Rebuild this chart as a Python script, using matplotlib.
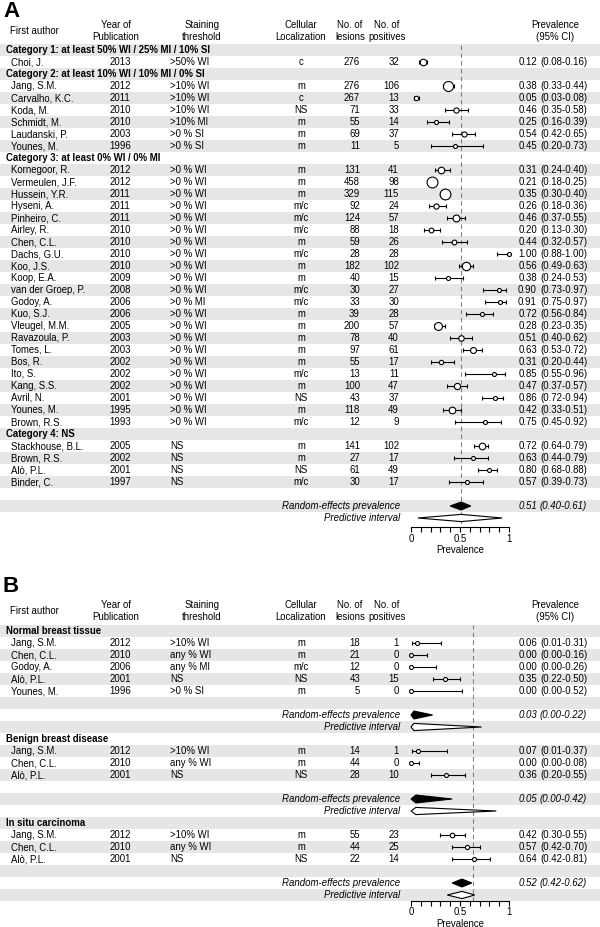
"""
Forest plots: prevalence per study (A) and per tissue type (B).
"""

import numpy as np
import matplotlib
matplotlib.use("Agg")
import matplotlib.pyplot as plt
from matplotlib.patches import Polygon

plt.rcParams['font.family'] = ['Liberation Sans', 'DejaVu Sans']

# ============================================
# 1. Data, panel A
# ============================================
cats_a = ["Category 1: at least 50% WI / 25% MI / 10% SI",
          "Category 2: at least 10% WI / 10% MI / 0% SI",
          "Category 3: at least 0% WI / 0% MI",
          "Category 4: NS"]
group_a = [0] + [1] * 6 + [2] * 22 + [3] * 4
authors_a = ["Choi, J.",
             "Jang, S.M.", "Carvalho, K.C.", "Koda, M.", "Schmidt, M.", "Laudanski, P.", "Younes, M.",
             "Kornegoor, R.", "Vermeulen, J.F.", "Hussein, Y.R.", "Hyseni, A.", "Pinheiro, C.",
             "Airley, R.", "Chen, C.L.", "Dachs, G.U.", "Koo, J.S.", "Koop, E.A.", "van der Groep, P.",
             "Godoy, A.", "Kuo, S.J.", "Vleugel, M.M.", "Ravazoula, P.", "Tomes, L.", "Bos, R.",
             "Ito, S.", "Kang, S.S.", "Avril, N.", "Younes, M.", "Brown, R.S.",
             "Stackhouse, B.L.", "Brown, R.S.", "Alò, P.L.", "Binder, C."]
years_a = [2013,
           2012, 2011, 2010, 2010, 2003, 1996,
           2012, 2012, 2011, 2011, 2011, 2010, 2010, 2010, 2010, 2009, 2008,
           2006, 2006, 2005, 2003, 2003, 2002, 2002, 2002, 2001, 1995, 1993,
           2005, 2002, 2001, 1997]
thresh_a = [">50% WI",
            ">10% WI", ">10% WI", ">10% WI", ">10% MI", ">0 % SI", ">0 % SI"] + \
           [">0 % WI"] * 11 + [">0 % MI"] + [">0 % WI"] * 10 + ["NS"] * 4
loc_a = ["c",
         "m", "c", "NS", "m", "m", "m",
         "m", "m", "m", "m/c", "m/c", "m/c", "m", "m/c", "m", "m", "m/c",
         "m/c", "m", "m", "m", "m", "m", "m/c", "m", "NS", "m", "m/c",
         "m", "m", "NS", "m/c"]
lesions_a = [276,
             276, 267, 71, 55, 69, 11,
             131, 458, 329, 92, 124, 88, 59, 28, 182, 40, 30,
             33, 39, 200, 78, 97, 55, 13, 100, 43, 118, 12,
             141, 27, 61, 30]
positives_a = [32,
               106, 13, 33, 14, 37, 5,
               41, 98, 115, 24, 57, 18, 26, 28, 102, 15, 27,
               30, 28, 57, 40, 61, 17, 11, 47, 37, 49, 9,
               102, 17, 49, 17]
prev_a = [0.12,
          0.38, 0.05, 0.46, 0.25, 0.54, 0.45,
          0.31, 0.21, 0.35, 0.26, 0.46, 0.20, 0.44, 1.00, 0.56, 0.38, 0.90,
          0.91, 0.72, 0.28, 0.51, 0.63, 0.31, 0.85, 0.47, 0.86, 0.42, 0.75,
          0.72, 0.63, 0.80, 0.57]
lo_a = [0.08,
        0.33, 0.03, 0.35, 0.16, 0.42, 0.20,
        0.24, 0.18, 0.30, 0.18, 0.37, 0.13, 0.32, 0.88, 0.49, 0.24, 0.73,
        0.75, 0.56, 0.23, 0.40, 0.53, 0.20, 0.55, 0.37, 0.72, 0.33, 0.45,
        0.64, 0.44, 0.68, 0.39]
hi_a = [0.16,
        0.44, 0.08, 0.58, 0.39, 0.65, 0.73,
        0.40, 0.25, 0.40, 0.36, 0.55, 0.30, 0.57, 1.00, 0.63, 0.53, 0.97,
        0.97, 0.84, 0.35, 0.62, 0.72, 0.44, 0.96, 0.57, 0.94, 0.51, 0.92,
        0.79, 0.79, 0.88, 0.73]
pooled_a = [[0.51, 0.40, 0.61]]
pred_a = [[0.07, 0.93]]
ref_a = 0.51

# ============================================
# 2. Data, panel B
# ============================================
cats_b = ["Normal breast tissue", "Benign breast disease", "In situ carcinoma"]
group_b = [0] * 5 + [1] * 3 + [2] * 3
authors_b = ["Jang, S.M.", "Chen, C.L.", "Godoy, A.", "Alò, P.L.", "Younes, M.",
             "Jang, S.M.", "Chen, C.L.", "Alò, P.L.",
             "Jang, S.M.", "Chen, C.L.", "Alò, P.L."]
years_b = [2012, 2010, 2006, 2001, 1996, 2012, 2010, 2001, 2012, 2010, 2001]
thresh_b = [">10% WI", "any % WI", "any % MI", "NS", ">0 % SI",
            ">10% WI", "any % WI", "NS",
            ">10% WI", "any % WI", "NS"]
loc_b = ["m", "m", "m/c", "NS", "m", "m", "m", "NS", "m", "m", "NS"]
lesions_b = [18, 21, 12, 43, 5, 14, 44, 28, 55, 44, 22]
positives_b = [1, 0, 0, 15, 0, 1, 0, 10, 23, 25, 14]
prev_b = [0.06, 0.00, 0.00, 0.35, 0.00, 0.07, 0.00, 0.36, 0.42, 0.57, 0.64]
lo_b = [0.01, 0.00, 0.00, 0.22, 0.00, 0.01, 0.00, 0.20, 0.30, 0.42, 0.42]
hi_b = [0.31, 0.16, 0.26, 0.50, 0.52, 0.37, 0.08, 0.55, 0.55, 0.70, 0.81]
pooled_b = [[0.03, 0.00, 0.22], [0.05, 0.00, 0.42], [0.52, 0.42, 0.62]]
pred_b = [[0.00, 0.72], [0.00, 0.87], [0.37, 0.65]]
ref_b = 0.63

# ============================================
# 3. Layout (pixels)
# ============================================
W, H = 600, 927
ROW = 12
FS = 6.9
BAND = '#e6e6e6'
X0, X1 = 411, 509          # forest axis: prevalence 0 -> 1


def px_rect(x0, y0, x1, y1):
    return [x0 / W, 1 - y1 / H, (x1 - x0) / W, (y1 - y0) / H]


def build_rows(cats, groups, per_group):
    rows = []
    for g in range(len(cats)):
        rows.append(('head', g))
        rows += [('study', i) for i, gg in enumerate(groups) if gg == g]
        if per_group:
            rows += [('blank', g), ('re', g), ('pi', g)]
    if not per_group:
        rows += [('blank', 0), ('re', 0), ('pi', 0)]
    return rows


def draw_panel(fig, letter, letter_y, head_y, row0, cats, rows, d, pooled, pred, ref,
               spine_out):
    n = len(rows)
    top = row0 - ROW / 2
    bot = row0 + ROW * (n - 1) + ROW / 2
    to_row = lambda y: (y - row0) / ROW

    # table part
    tab = fig.add_axes(px_rect(0, top, W, bot))
    tab.set_xlim(0, W)
    tab.set_ylim(n - 0.5, -0.5)
    tab.axis('off')
    for r in range(0, n, 2):
        tab.axhspan(r - 0.5, r + 0.5, color=BAND, lw=0, zorder=0)

    tab.text(3, to_row(letter_y), letter, fontsize=16, fontweight='bold',
             ha='left', va='center')
    hy = to_row(head_y)
    tab.text(10, hy, "First author", fontsize=FS, ha='left', va='center')
    for x, t in [(116, "Year of\nPublication"), (202, "Staining\nthreshold"),
                 (301, "Cellular\nLocalization"), (350, "No. of\nlesions"),
                 (387, "No. of\npositives"), (555, "Prevalence\n(95% CI)")]:
        tab.text(x, hy, t, fontsize=FS, ha='center', va='center', linespacing=1.3)

    # forest part
    fa = fig.add_axes(px_rect(X0, top, X1, bot))
    fa.set_xlim(0, 1)
    fa.set_ylim(n - 0.5, -0.5)
    fa.patch.set_visible(False)
    for s in ['top', 'right', 'left']:
        fa.spines[s].set_visible(False)
    fa.spines['bottom'].set_position(('outward', spine_out))
    fa.spines['bottom'].set_linewidth(0.8)
    fa.set_yticks([])
    fa.set_xticks(np.linspace(0, 1, 11))
    fa.set_xticklabels(['0', '', '', '', '', '0.5', '', '', '', '', '1'])
    fa.tick_params(axis='x', length=3.6, width=0.8, pad=1, labelsize=FS)
    fa.set_xlabel("Prevalence", fontsize=FS, labelpad=1)
    fa.axvline(ref, color='#808080', lw=0.8, ls=(0, (4, 3)), zorder=1)

    for r, (kind, k) in enumerate(rows):
        if kind == 'head':
            tab.text(6, r, cats[k], fontsize=FS, fontweight='bold', ha='left', va='center')
        elif kind == 'study':
            tab.text(11, r, d['author'][k], fontsize=FS, ha='left', va='center')
            tab.text(120, r, str(d['year'][k]), fontsize=FS, ha='center', va='center')
            tab.text(170, r, d['thresh'][k], fontsize=FS, ha='left', va='center')
            tab.text(301, r, d['loc'][k], fontsize=FS, ha='center', va='center')
            tab.text(360, r, str(d['n'][k]), fontsize=FS, ha='right', va='center')
            tab.text(399, r, str(d['x'][k]), fontsize=FS, ha='right', va='center')
            p, lo, hi = d['p'][k], d['lo'][k], d['hi'][k]
            tab.text(537, r, f"{p:.2f}", fontsize=FS, ha='right', va='center')
            tab.text(540, r, f"({lo:.2f}-{hi:.2f})", fontsize=FS, ha='left', va='center')
            # inverse-variance weight (logit scale) sets the marker size
            x, nn = d['x'][k], d['n'][k]
            w = 1 / (1 / (x + 0.5) + 1 / (nn - x + 0.5))
            diam = max(4.0, 1.24 * np.sqrt(w))
            fa.errorbar(p, r, xerr=[[p - lo], [hi - p]], fmt='none', ecolor='black',
                        elinewidth=0.8, capsize=1.6, capthick=0.8, zorder=2, clip_on=False)
            fa.plot(p, r, 'o', ms=diam * 0.72, mfc='white', mec='black', mew=0.8,
                    zorder=3, clip_on=False)
        elif kind == 're':
            est, lo, hi = pooled[k]
            tab.text(400, r, "Random-effects prevalence", fontsize=FS, style='italic',
                     ha='right', va='center')
            tab.text(537, r, f"{est:.2f}", fontsize=FS, style='italic', ha='right', va='center')
            tab.text(540, r, f"({lo:.2f}-{hi:.2f})", fontsize=FS, style='italic',
                     ha='left', va='center')
            fa.add_patch(Polygon([(lo, r), (est, r - 0.33), (hi, r), (est, r + 0.33)],
                                 closed=True, fc='black', ec='black', lw=0.8,
                                 zorder=3, clip_on=False))
        elif kind == 'pi':
            est = pooled[k][0]
            lo, hi = pred[k]
            tab.text(400, r, "Predictive interval", fontsize=FS, style='italic',
                     ha='right', va='center')
            fa.add_patch(Polygon([(lo, r), (est, r - 0.3), (hi, r), (est, r + 0.3)],
                                 closed=True, fc='white', ec='black', lw=0.8,
                                 zorder=3, clip_on=False))


if __name__ == "__main__":
    fig = plt.figure(figsize=(W / 100, H / 100), dpi=100)

    data_a = dict(author=authors_a, year=years_a, thresh=thresh_a, loc=loc_a,
                  n=lesions_a, x=positives_a, p=prev_a, lo=lo_a, hi=hi_a)
    rows_a = build_rows(cats_a, group_a, per_group=False)
    draw_panel(fig, "A", 11, 31, 50, cats_a, rows_a, data_a, pooled_a, pred_a, ref_a, 2.5)

    data_b = dict(author=authors_b, year=years_b, thresh=thresh_b, loc=loc_b,
                  n=lesions_b, x=positives_b, p=prev_b, lo=lo_b, hi=hi_b)
    rows_b = build_rows(cats_b, group_b, per_group=True)
    draw_panel(fig, "B", 586, 611, 631, cats_b, rows_b, data_b, pooled_b, pred_b, ref_b, 0)

    fig.savefig("out.png", dpi=100)
